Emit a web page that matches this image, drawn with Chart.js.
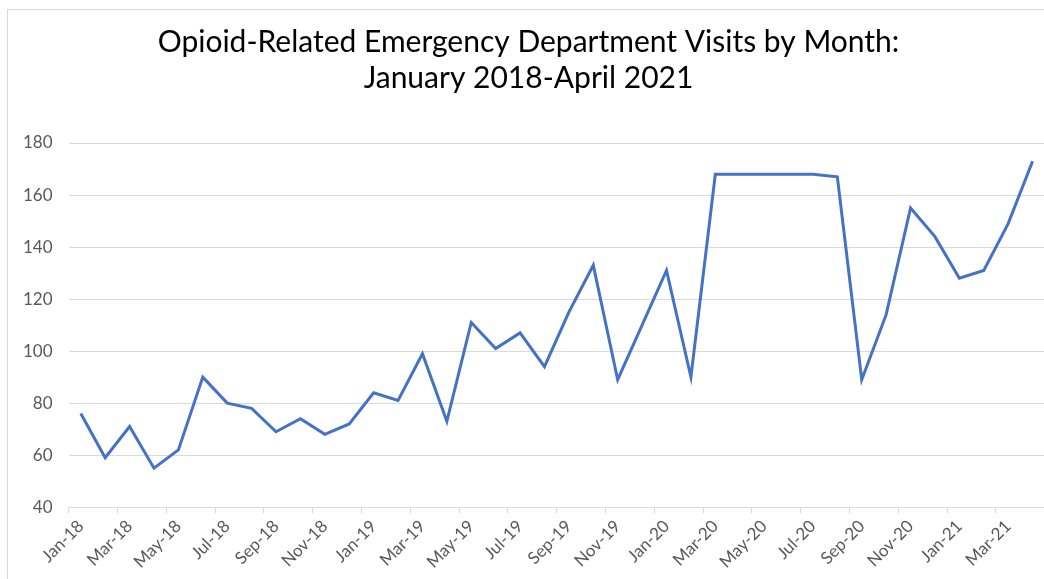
<!DOCTYPE html>
<html>
<head>
<meta charset="utf-8">
<title>Opioid-Related ED Visits</title>
<script src="https://cdn.jsdelivr.net/npm/chart.js@4/dist/chart.umd.min.js"></script>
<style>
  html, body { margin: 0; padding: 0; background: #fff; overflow: hidden; }
  #wrap { width: 1050px; height: 579px; }
</style>
</head>
<body>
<div id="wrap"><canvas id="edChart" width="1050" height="579"></canvas></div>
<script>
// monthly visits, Jan 2018 - Apr 2021
const months = [
  "Jan-18", "Feb-18", "Mar-18", "Apr-18", "May-18", "Jun-18", "Jul-18", "Aug-18", "Sep-18", "Oct-18", "Nov-18", "Dec-18",
  "Jan-19", "Feb-19", "Mar-19", "Apr-19", "May-19", "Jun-19", "Jul-19", "Aug-19", "Sep-19", "Oct-19", "Nov-19", "Dec-19",
  "Jan-20", "Feb-20", "Mar-20", "Apr-20", "May-20", "Jun-20", "Jul-20", "Aug-20", "Sep-20", "Oct-20", "Nov-20", "Dec-20",
  "Jan-21", "Feb-21", "Mar-21", "Apr-21"
];
const visits = [
  76, 59, 71, 55, 62, 90, 80, 78, 69, 74, 68, 72,
  84, 81, 99, 73, 111, 101, 107, 94, 115, 133, 89, 110,
  131, 90, 168, 168, 168, 168, 168, 167, 89, 114, 155, 144,
  128, 131, 149, 173
];
const yTicks = [40, 60, 80, 100, 120, 140, 160, 180];
const titleLines = ["Opioid-Related Emergency Department Visits by Month:", "January 2018-April 2021"];

const gridGray = "#d9d9d9";
const labelGray = "#595959";

// light outer frame round the chart
const framePlugin = {
  id: "frame",
  beforeDraw(chart) {
    const c = chart.ctx;
    c.save();
    c.fillStyle = "#fff";
    c.fillRect(0, 0, chart.width, chart.height);
    c.strokeStyle = gridGray;
    c.lineWidth = 1;
    c.strokeRect(7.5, 9.5, chart.width + 20, chart.height + 20);
    c.restore();
  }
};

const ctx = document.getElementById("edChart").getContext("2d");
let chart = new Chart(ctx, {
  type: "line",
  data: {
    labels: months,
    datasets: [{
      label: "ED visits",
      data: visits,
      borderColor: "#4472C4",
      borderWidth: 3,
      pointRadius: 0,
      tension: 0,
      fill: false
    }]
  },
  options: {
    responsive: false,
    animation: false,
    layout: { padding: { left: 7, right: 0, top: 0, bottom: 4 } },
    plugins: {
      legend: { display: false },
      tooltip: { enabled: false },
      title: {
        display: true,
        text: titleLines,
        color: "#000",
        font: { family: "Lato", size: 30, weight: "normal", lineHeight: 1.2 },
        padding: { top: 24, bottom: 47 }
      }
    },
    scales: {
      x: {
        offset: true,
        grid: {
          offset: true,
          drawOnChartArea: false,
          tickLength: 6,
          color: c => (c.index % 2 === 0 ? gridGray : "transparent")
        },
        border: { color: gridGray },
        ticks: {
          autoSkip: false,
          maxRotation: 45,
          minRotation: 45,
          color: labelGray,
          font: { family: "Lato", size: 17 },
          callback: (v, i) => (i % 2 === 0 ? months[i] : "")
        }
      },
      y: {
        min: yTicks[0],
        max: yTicks[yTicks.length - 1],
        afterBuildTicks: axis => { axis.ticks = yTicks.map(v => ({ value: v })); },
        grid: { color: gridGray, drawTicks: false },
        border: { display: false },
        ticks: {
          color: labelGray,
          padding: 16,
          font: { family: "Lato", size: 17 }
        }
      }
    }
  },
  plugins: [framePlugin]
});
</script>
</body>
</html>
